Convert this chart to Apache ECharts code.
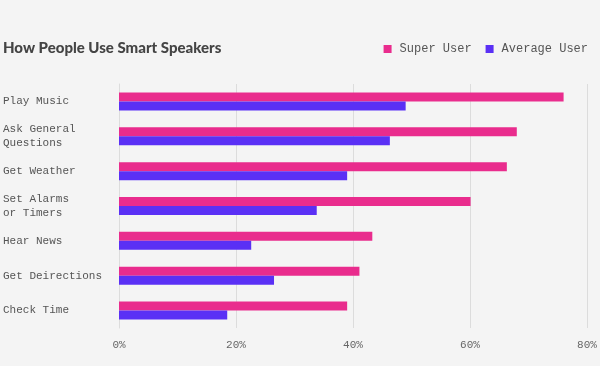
<!DOCTYPE html>
<html><head><meta charset="utf-8">
<script src="https://cdn.jsdelivr.net/npm/echarts@6/dist/echarts.min.js"></script>
<style>html,body{margin:0;padding:0;background:#f4f4f4;}#c{width:600px;height:366px;}</style>
</head><body><div id="c"></div>
<script>
const categories = ["Play Music", "Ask General\nQuestions", "Get Weather", "Set Alarms\nor Timers", "Hear News", "Get Deirections", "Check Time"];
const superUser = [76, 68, 66.3, 60.1, 43.3, 41.1, 39];
const averageUser = [49, 46.3, 39, 33.8, 22.6, 26.5, 18.5];
const xTicks = [0, 20, 40, 60, 80];

const mono = '"Liberation Mono", "DejaVu Sans Mono", monospace';
const chart = echarts.init(document.getElementById('c'), null, {renderer: 'canvas'});
chart.setOption({
  backgroundColor: '#f4f4f4',
  animation: false,
  title: {
    text: 'How People Use Smart Speakers',
    left: 3, top: 41, padding: 0,
    textStyle: {fontFamily: 'Lato, "Open Sans", sans-serif', fontWeight: 900, fontSize: 15, color: '#444'}
  },
  legend: {
    right: 7, top: 38,
    itemWidth: 8, itemHeight: 8, itemGap: 14,
    icon: 'rect',
    textStyle: {fontFamily: mono, fontSize: 12, color: '#555', padding: [0, 0, 0, 3]},
    data: ['Super User', 'Average User']
  },
  grid: {left: 119, right: 13, top: 84, bottom: 38, containLabel: false},
  xAxis: {
    type: 'value', min: xTicks[0], max: xTicks[xTicks.length - 1], interval: 20,
    axisLine: {show: false}, axisTick: {show: false},
    splitLine: {lineStyle: {color: '#dcdcdc', width: 1}},
    axisLabel: {formatter: v => v + '%', fontFamily: mono, fontSize: 11, color: '#666', margin: 12}
  },
  yAxis: {
    type: 'category', data: categories, inverse: true,
    axisLine: {show: true, lineStyle: {color: '#dcdcdc'}}, axisTick: {show: false},
    axisLabel: {align: 'left', margin: 116, fontFamily: mono, fontSize: 11, color: '#555', lineHeight: 14}
  },
  series: [
    {name: 'Super User', type: 'bar', data: superUser, barWidth: 9, barGap: '0%', itemStyle: {color: '#e92c8d'}},
    {name: 'Average User', type: 'bar', data: averageUser, barWidth: 9, barGap: '0%', itemStyle: {color: '#5a30f5'}}
  ]
});
</script></body></html>
